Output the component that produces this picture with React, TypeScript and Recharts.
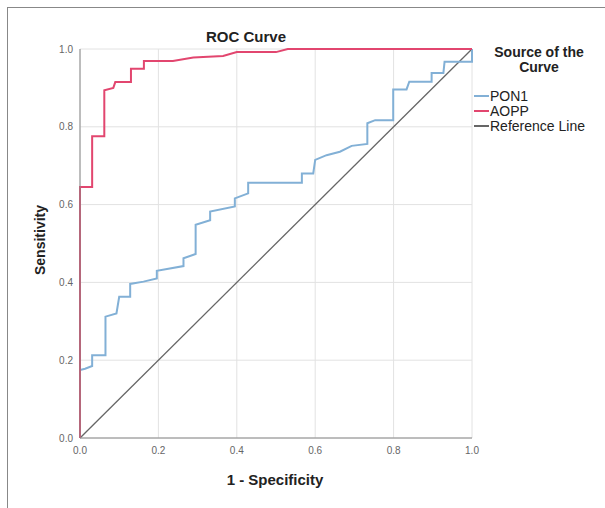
import React from 'react';
import { LineChart, Line, XAxis, YAxis, CartesianGrid } from 'recharts';

const xTicks = [0, 0.2, 0.4, 0.6, 0.8, 1.0];
const yTicks = [0, 0.2, 0.4, 0.6, 0.8, 1.0];

const pon1Points = [
  { x: 0, y: 0 }, { x: 0, y: 0.175 }, { x: 0.013, y: 0.178 }, { x: 0.031, y: 0.185 },
  { x: 0.031, y: 0.213 }, { x: 0.065, y: 0.213 }, { x: 0.065, y: 0.312 }, { x: 0.093, y: 0.32 },
  { x: 0.1, y: 0.363 }, { x: 0.128, y: 0.363 }, { x: 0.128, y: 0.396 }, { x: 0.162, y: 0.402 },
  { x: 0.196, y: 0.41 }, { x: 0.196, y: 0.43 }, { x: 0.264, y: 0.442 }, { x: 0.264, y: 0.462 },
  { x: 0.295, y: 0.473 }, { x: 0.295, y: 0.548 }, { x: 0.332, y: 0.56 }, { x: 0.332, y: 0.582 },
  { x: 0.395, y: 0.595 }, { x: 0.395, y: 0.616 }, { x: 0.429, y: 0.629 }, { x: 0.429, y: 0.656 },
  { x: 0.566, y: 0.656 }, { x: 0.566, y: 0.68 }, { x: 0.595, y: 0.68 }, { x: 0.6, y: 0.715 },
  { x: 0.629, y: 0.727 }, { x: 0.663, y: 0.736 }, { x: 0.693, y: 0.751 }, { x: 0.733, y: 0.756 },
  { x: 0.733, y: 0.809 }, { x: 0.753, y: 0.817 }, { x: 0.799, y: 0.817 }, { x: 0.799, y: 0.896 },
  { x: 0.833, y: 0.896 }, { x: 0.84, y: 0.916 }, { x: 0.897, y: 0.916 }, { x: 0.897, y: 0.938 },
  { x: 0.927, y: 0.938 }, { x: 0.93, y: 0.967 }, { x: 1, y: 0.967 }, { x: 1, y: 1 },
];

const aoppPoints = [
  { x: 0, y: 0 }, { x: 0, y: 0.645 }, { x: 0.031, y: 0.645 }, { x: 0.031, y: 0.776 },
  { x: 0.062, y: 0.776 }, { x: 0.062, y: 0.894 }, { x: 0.085, y: 0.9 }, { x: 0.09, y: 0.915 },
  { x: 0.13, y: 0.915 }, { x: 0.13, y: 0.949 }, { x: 0.163, y: 0.949 }, { x: 0.163, y: 0.969 },
  { x: 0.237, y: 0.969 }, { x: 0.289, y: 0.978 }, { x: 0.365, y: 0.982 }, { x: 0.4, y: 0.992 },
  { x: 0.5, y: 0.992 }, { x: 0.53, y: 1 }, { x: 1, y: 1 },
];

const referencePoints = [{ x: 0, y: 0 }, { x: 1, y: 1 }];

const legendItems = [
  { name: 'PON1', color: '#82b0d6' },
  { name: 'AOPP', color: '#e2466f' },
  { name: 'Reference Line', color: '#666666' },
];

const FONT = '"Liberation Sans", Arial, Helvetica, sans-serif';

export default function App() {
  return (
    <div style={{ position: 'absolute', left: 0, top: 0, width: 605, height: 508, background: '#fff', fontFamily: FONT, overflow: 'hidden' }}>
      <div style={{ position: 'absolute', left: 7, top: 7, right: -2, bottom: -2, borderLeft: '1px solid #888', borderTop: '1px solid #888' }} />
      <LineChart width={605} height={508} margin={{ top: 49, right: 133, bottom: 40, left: 0 }}>
        <CartesianGrid stroke="#e2e2e2" horizontalValues={yTicks} verticalValues={xTicks} />
        <XAxis
          dataKey="x"
          type="number"
          domain={[0, 1]}
          ticks={xTicks}
          tickFormatter={(v: number) => v.toFixed(1)}
          height={30}
          tickLine={false}
          tickSize={0}
          tickMargin={9}
          axisLine={{ stroke: '#888' }}
          tick={{ fontSize: 10, fill: '#666', fontFamily: FONT }}
          allowDuplicatedCategory={false}
        />
        <YAxis
          dataKey="y"
          type="number"
          domain={[0, 1]}
          ticks={yTicks}
          tickFormatter={(v: number) => v.toFixed(1)}
          width={80}
          tickLine={false}
          tickSize={0}
          tickMargin={7}
          axisLine={{ stroke: '#888' }}
          tick={{ fontSize: 10, fill: '#666', fontFamily: FONT }}
        />
        <Line data={referencePoints} dataKey="y" type="linear" stroke="#666666" strokeWidth={1.3} dot={false} isAnimationActive={false} />
        <Line data={pon1Points} dataKey="y" type="linear" stroke="#82b0d6" strokeWidth={2} dot={false} isAnimationActive={false} />
        <Line data={aoppPoints} dataKey="y" type="linear" stroke="#e2466f" strokeWidth={2} dot={false} isAnimationActive={false} />
      </LineChart>
      <div style={{ position: 'absolute', left: 146, width: 200, top: 28, textAlign: 'center', fontWeight: 'bold', fontSize: 15, lineHeight: '18px', color: '#222' }}>ROC Curve</div>
      <div style={{ position: 'absolute', left: 175, width: 200, top: 471, textAlign: 'center', fontWeight: 'bold', fontSize: 15, lineHeight: '18px', color: '#222' }}>1 - Specificity</div>
      <div style={{ position: 'absolute', left: 40 - 60, top: 240 - 9, width: 120, textAlign: 'center', fontWeight: 'bold', fontSize: 14, lineHeight: '18px', color: '#222', transform: 'rotate(-90deg)' }}>Sensitivity</div>
      <div style={{ position: 'absolute', left: 479, width: 120, top: 45, textAlign: 'center', fontWeight: 'bold', fontSize: 14, lineHeight: '15px', color: '#222' }}>Source of the<br />Curve</div>
      {legendItems.map((it, i) => (
        <div key={it.name} style={{ position: 'absolute', left: 474, top: 88 + i * 15, height: 16, display: 'flex', alignItems: 'center', whiteSpace: 'nowrap' }}>
          <div style={{ width: 15, height: 0, borderTop: `2px solid ${it.color}`, marginRight: 1 }} />
          <span style={{ fontSize: 14, lineHeight: '16px', color: '#222' }}>{it.name}</span>
        </div>
      ))}
    </div>
  );
}
